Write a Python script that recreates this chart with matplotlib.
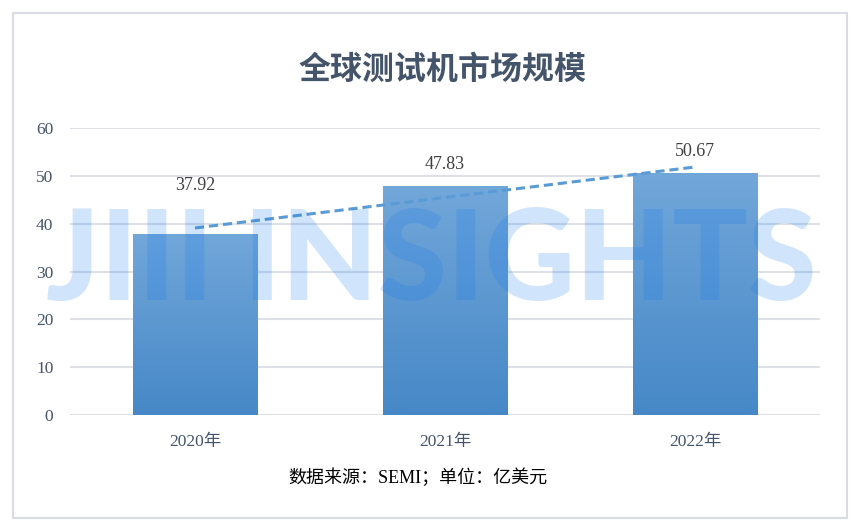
import numpy as np
import matplotlib
matplotlib.use("Agg")
import matplotlib.pyplot as plt
from matplotlib.patches import Rectangle
from matplotlib.colors import LinearSegmentedColormap

years = ["2020年", "2021年", "2022年"]
market = [37.92, 47.83, 50.67]
label_offsets = [48, 22, 21]  # px above bar top, as in the original

plt.rcParams['font.family'] = ['Liberation Serif', 'Noto Sans CJK SC']

W, H = 860, 531
fig = plt.figure(figsize=(W / 100, H / 100), dpi=100)
fig.patch.set_facecolor("white")

# frame around the whole chart
fig.patches.append(Rectangle((13 / W, 1 - 518 / H), 834 / W, 505 / H,
                             transform=fig.transFigure, fill=False,
                             edgecolor="#d9dde3", linewidth=1.5))

ax = fig.add_axes([70 / W, 1 - 415 / H, 750 / W, 287 / H])
x = np.arange(len(years))

ax.set_yticks(range(0, 61, 10))
ax.grid(axis="y", color="#dde1e6", linewidth=1.5)
ax.set_axisbelow(True)
for s in ax.spines.values():
    s.set_visible(False)
ax.tick_params(length=0, colors="#44546a", labelsize=12.5)
ax.tick_params(axis="y", pad=12)
ax.tick_params(axis="x", pad=14)
ax.set_xticks(x)
ax.set_xticklabels(years)

# bars with vertical gradient
bars = ax.bar(x, market, width=0.5, color="none", zorder=2)
grad = np.linspace(0, 1, 256).reshape(-1, 1)
cmap = LinearSegmentedColormap.from_list("g", ["#4688c7", "#72a7da"])
for b in bars:
    im = ax.imshow(grad, cmap=cmap, origin="lower", aspect="auto",
                   extent=[b.get_x(), b.get_x() + b.get_width(), 0, b.get_height()],
                   zorder=2)
    im.set_clip_path(b)
ax.set_xlim(-0.5, len(years) - 0.5)
ax.set_ylim(0, 60)

# linear trend line
k, c = np.polyfit(x, market, 1)
ax.plot(x, k * x + c, linestyle=(0, (3, 1.6)), color="#5b9bd5", linewidth=2.2, zorder=3)

# value labels
for xi, v, off in zip(x, market, label_offsets):
    ax.annotate(f"{v:.2f}", (xi, v), xytext=(0, off * 0.72), textcoords="offset points",
                ha="center", va="center", fontsize=13, color="#404040", zorder=4)

fig.text(442 / W, 1 - 70 / H, "全球测试机市场规模", ha="center", va="center",
         fontsize=23, fontweight="bold", color="#44546a", family=["Noto Sans CJK SC"])
fig.text(418 / W, 1 - 478 / H, "数据来源：SEMI；单位：亿美元", ha="center", va="center",
         fontsize=13, color="black")

# watermark
fig.text(431 / W, 1 - 263 / H, "JIII INSIGHTS", ha="center", va="center",
         fontsize=90, fontweight="black", family=["Lato", "DejaVu Sans"],
         color=(20 / 255, 120 / 255, 240 / 255), alpha=0.2, zorder=10)

fig.savefig("out.png", dpi=100)
